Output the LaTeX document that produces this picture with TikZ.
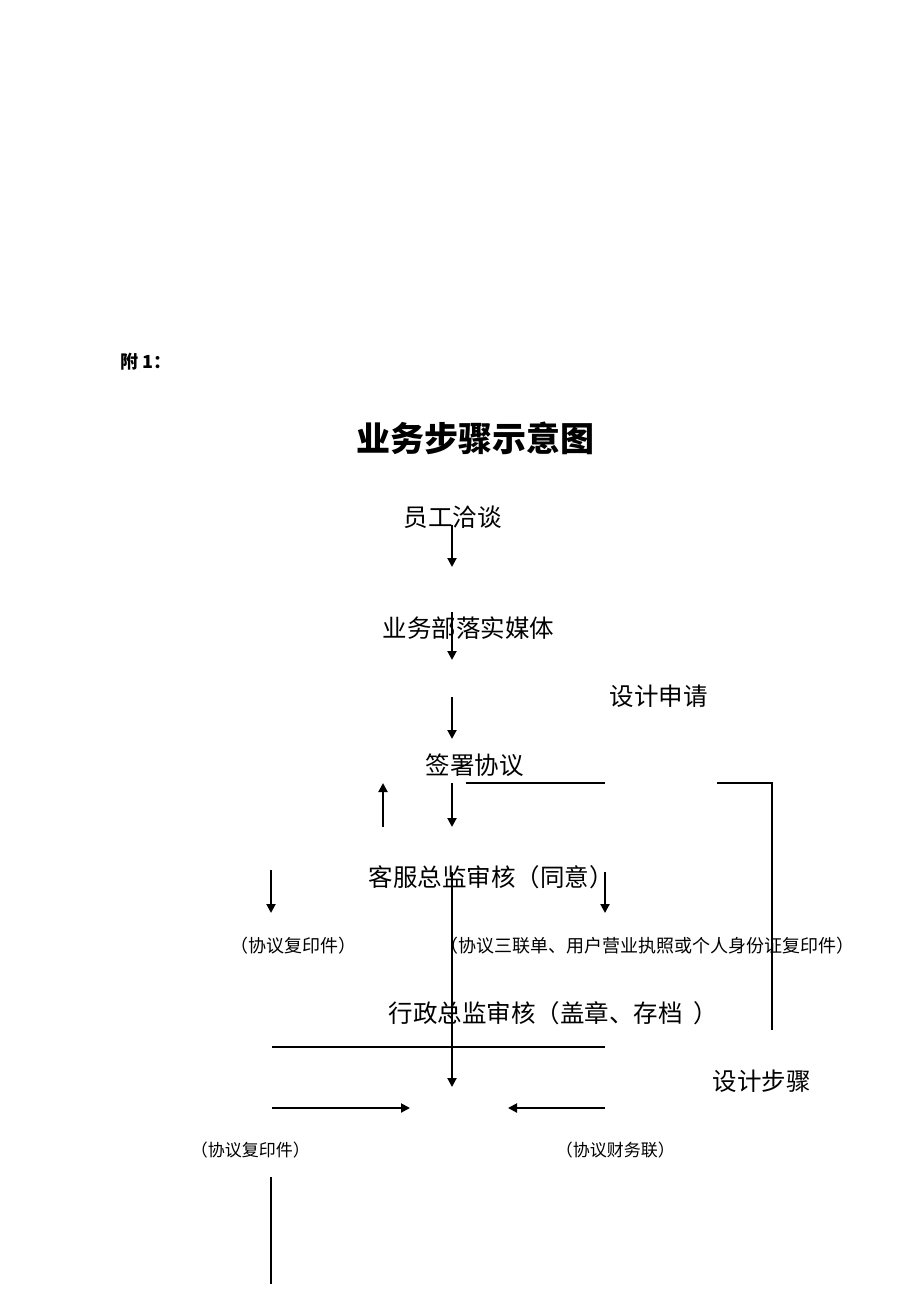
\documentclass[tikz,border=0pt]{standalone}
\usepackage{fontspec}
\setmainfont{Noto Sans CJK SC}
\usetikzlibrary{arrows.meta}

\begin{document}
\begin{tikzpicture}[x=1pt, y=-1pt, line width=1.6pt,
    steptext/.style={inner sep=0pt, anchor=west, font=\fontsize{24.5}{26}\selectfont},
    notetext/.style={inner sep=0pt, anchor=west, font=\fontsize{18}{20}\selectfont},
    flow/.style={-{Triangle[length=9pt, width=9pt]}, line width=2pt}]
    \useasboundingbox (0,0) rectangle (920,1302);

    \node[inner sep=0pt, anchor=west, font=\bfseries\fontsize{18}{20}\selectfont] (annex) at (120,362) {附 1：};
    \node[inner sep=0pt, font=\bfseries\fontsize{34}{36}\selectfont] (title) at (475,438) {业务步骤示意图};

    \node[steptext] (meet) at (403,517) {员工洽谈};
    \node[steptext] (media) at (382,628) {业务部落实媒体};
    \node[steptext] (apply) at (609,696) {设计申请};
    \node[steptext] (sign) at (425,765) {签署协议};
    \node[steptext] (cs) at (368,877) {客服总监审核（同意）};
    \node[notetext] (copyA) at (230,946) {（协议复印件）};
    \node[notetext] (docs) at (440,946) {（协议三联单、用户营业执照或个人身份证复印件）};
    \node[steptext] (admin) at (388,1013) {行政总监审核（盖章、存档 \ ）};
    \node[steptext] (design) at (712,1081) {设计步骤};
    \node[notetext, font=\fontsize{17}{19}\selectfont] (copyB) at (190,1150) {（协议复印件）};
    \node[notetext, font=\fontsize{17}{19}\selectfont] (finance) at (555,1150) {（协议财务联）};

    % arrow ends
    \coordinate (m1) at (452,525);  \coordinate (m2) at (452,567);
    \coordinate (d1) at (452,612);  \coordinate (d2) at (452,660);
    \coordinate (p1) at (452,697);  \coordinate (p2) at (452,739);
    \coordinate (u1) at (383,827);  \coordinate (u2) at (383,783);
    \coordinate (s1) at (452,783);  \coordinate (s2) at (452,827);
    \coordinate (h1) at (466,783);  \coordinate (h2) at (605,783);
    \coordinate (r1) at (717,783);  \coordinate (r2) at (772,783);
    \coordinate (r3) at (772,1030);
    \coordinate (l1) at (271,870);  \coordinate (l2) at (271,913);
    \coordinate (c1) at (605,872);  \coordinate (c2) at (605,913);
    \coordinate (v1) at (452,872);  \coordinate (v2) at (452,1087);
    \coordinate (g1) at (272,1047); \coordinate (g2) at (605,1047);
    \coordinate (a1) at (272,1108); \coordinate (a2) at (410,1108);
    \coordinate (b1) at (605,1108); \coordinate (b2) at (508,1108);
    \coordinate (e1) at (271,1177); \coordinate (e2) at (271,1284);

    \draw[flow] (m1) -- (m2);
    \draw[flow] (d1) -- (d2);
    \draw[flow] (p1) -- (p2);
    \draw[flow] (u1) -- (u2);
    \draw[flow] (s1) -- (s2);
    \draw (h1) -- (h2);
    \draw (r1) -- (r2) -- (r3);
    \draw[flow] (l1) -- (l2);
    \draw[flow] (c1) -- (c2);
    \draw[flow] (v1) -- (v2);
    \draw (g1) -- (g2);
    \draw[flow] (a1) -- (a2);
    \draw[flow] (b1) -- (b2);
    \draw (e1) -- (e2);
\end{tikzpicture}
\end{document}
